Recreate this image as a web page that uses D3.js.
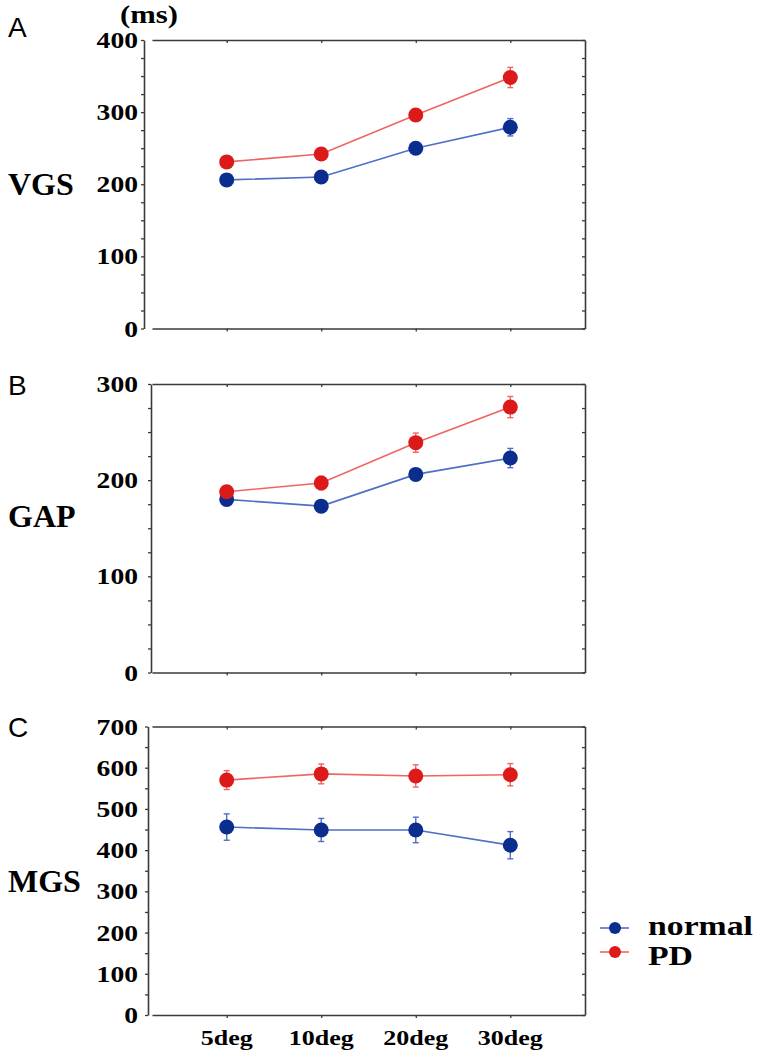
<!DOCTYPE html>
<html>
<head>
<meta charset="utf-8">
<script src="https://cdn.jsdelivr.net/npm/d3@7"></script>
<style>
  html, body { margin: 0; padding: 0; background: #fff; }
  svg { display: block; }
</style>
</head>
<body>
<div id="chart"></div>
<script>
// ---------------- DATA ----------------
const categories = ["5deg", "10deg", "20deg", "30deg"];
const seriesNames = ["normal", "PD"];

const vgsNormal    = [206, 210, 250, 279];
const vgsNormalErr = [4, 4, 5, 12];
const vgsPD        = [231, 242, 296, 348];
const vgsPDErr     = [4, 5, 5, 14];

const gapNormal    = [180, 173, 206, 223];
const gapNormalErr = [4, 4, 5, 10];
const gapPD        = [188, 197, 239, 276];
const gapPDErr     = [5, 7, 10, 11];

const mgsNormal    = [456, 449, 449, 412];
const mgsNormalErr = [32, 28, 31, 33];
const mgsPD        = [570, 585, 580, 583];
const mgsPDErr     = [23, 24, 27, 27];

const panelLetters = ["A", "B", "C"];
const panelTitles  = ["VGS", "GAP", "MGS"];
const yMaxima      = [400, 300, 700];
const yLabelTicks  = [[0,100,200,300,400], [0,100,200,300], [0,100,200,300,400,500,600,700]];
const unitLabel    = "(ms)";

// ---------------- LAYOUT / STYLE ----------------
const W = 757, H = 1050;
const serif = "'Liberation Serif', 'Times New Roman', serif";
const sans  = "'Liberation Sans', Arial, sans-serif";
const axisColor = "#3a3a3a";
const markerColors = { normal: "#0b2d8e", PD: "#dd1a1a" };
const lineColors   = { normal: "#4f6fc4", PD: "#f06464" };

const layout = [
  { top: 40,  bottom: 328.5, axisX: 144, minor: 25, letterY: 37,  titleY: 195 },
  { top: 384, bottom: 672.5, axisX: 151, minor: 25, letterY: 395, titleY: 527 },
  { top: 726.5, bottom: 1015, axisX: 148, minor: 50, letterY: 737, titleY: 892 }
];
const frameLeft = 152, frameRight = 585;

const panelData = [
  { normal: vgsNormal, normalErr: vgsNormalErr, PD: vgsPD, PDErr: vgsPDErr },
  { normal: gapNormal, normalErr: gapNormalErr, PD: gapPD, PDErr: gapPDErr },
  { normal: mgsNormal, normalErr: mgsNormalErr, PD: mgsPD, PDErr: mgsPDErr }
];

const svg = d3.select("#chart").append("svg")
  .attr("width", W).attr("height", H);

function stext(g, x, y, str, size, sx, anchor, family, weight) {
  return g.append("text")
    .attr("transform", `translate(${x},${y}) scale(${sx},1)`)
    .attr("text-anchor", anchor)
    .style("font-family", family)
    .style("font-weight", weight)
    .style("font-size", size + "px")
    .attr("fill", "#000")
    .text(str);
}

const x = d3.scalePoint().domain(categories).range([frameLeft, frameRight]).padding(0.79);

function styleAxis(g) {
  g.selectAll("path.domain").attr("stroke", axisColor).attr("stroke-width", 1.6);
  g.selectAll(".tick line").attr("stroke", axisColor).attr("stroke-width", 1.3);
  g.selectAll(".tick text").remove();
}

layout.forEach((L, i) => {
  const g = svg.append("g");
  const y = d3.scaleLinear().domain([0, yMaxima[i]]).range([L.bottom, L.top]);
  const minorVals = d3.range(0, yMaxima[i] + 1, L.minor);

  // frame: top, bottom, right
  g.append("g").attr("transform", `translate(0,${L.top})`)
    .call(d3.axisTop(x).tickSize(-3).tickSizeOuter(0).tickFormat(""))
    .call(styleAxis);
  g.append("g").attr("transform", `translate(0,${L.bottom})`)
    .call(d3.axisBottom(x).tickSize(3).tickSizeOuter(0).tickFormat(""))
    .call(styleAxis);
  g.append("g").attr("transform", `translate(${frameRight},0)`)
    .call(d3.axisLeft(y).tickValues(minorVals).tickSize(3).tickSizeOuter(0).tickFormat(""))
    .call(styleAxis);
  // left axis
  g.append("g").attr("transform", `translate(${L.axisX},0)`)
    .call(d3.axisLeft(y).tickValues(minorVals).tickSize(3).tickSizeOuter(0).tickFormat(""))
    .call(styleAxis);

  // y tick labels
  yLabelTicks[i].forEach(v => {
    stext(g, 138, y(v) + 8, String(v), 24, 1.15, "end", serif, "bold");
  });

  // panel letter and title
  stext(g, 8, L.letterY, panelLetters[i], 28, 1, "start", sans, "normal");
  stext(g, 8, L.titleY, panelTitles[i], 32, 1, "start", serif, "bold");

  // series
  const D = panelData[i];
  seriesNames.forEach(name => {
    const vals = categories.map((c, k) => ({ c, v: D[name][k], e: D[name + "Err"][k] }));
    const line = d3.line().x(d => x(d.c)).y(d => y(d.v));
    g.append("path").datum(vals)
      .attr("d", line).attr("fill", "none")
      .attr("stroke", lineColors[name]).attr("stroke-width", 1.6);
    const eb = g.append("g").attr("stroke", lineColors[name]).attr("stroke-width", 1.4);
    vals.forEach(d => {
      eb.append("line").attr("x1", x(d.c)).attr("x2", x(d.c))
        .attr("y1", y(d.v + d.e)).attr("y2", y(d.v - d.e));
      [d.v + d.e, d.v - d.e].forEach(t => {
        eb.append("line").attr("x1", x(d.c) - 3).attr("x2", x(d.c) + 3)
          .attr("y1", y(t)).attr("y2", y(t));
      });
    });
    g.append("g").selectAll("circle").data(vals).join("circle")
      .attr("cx", d => x(d.c)).attr("cy", d => y(d.v)).attr("r", 7.5)
      .attr("fill", markerColors[name]);
  });

  // x labels on the last panel
  if (i === layout.length - 1) {
    categories.forEach(c => {
      stext(g, x(c), 1045, c, 21, 1.24, "middle", serif, "bold");
    });
  }
});

// unit label
stext(svg, 149, 23, unitLabel, 26, 1.18, "middle", serif, "bold");

// legend
const legend = svg.append("g");
const legendY = [928, 952];
const legendBase = [935, 965];
seriesNames.forEach((name, k) => {
  legend.append("line").attr("x1", 600).attr("x2", 629)
    .attr("y1", legendY[k]).attr("y2", legendY[k])
    .attr("stroke", lineColors[name]).attr("stroke-width", 1.6);
  legend.append("circle").attr("cx", 615).attr("cy", legendY[k]).attr("r", 6)
    .attr("fill", markerColors[name]);
  stext(legend, 648, legendBase[k], name, 27, 1.25, "start", serif, "bold");
});
</script>
</body>
</html>
